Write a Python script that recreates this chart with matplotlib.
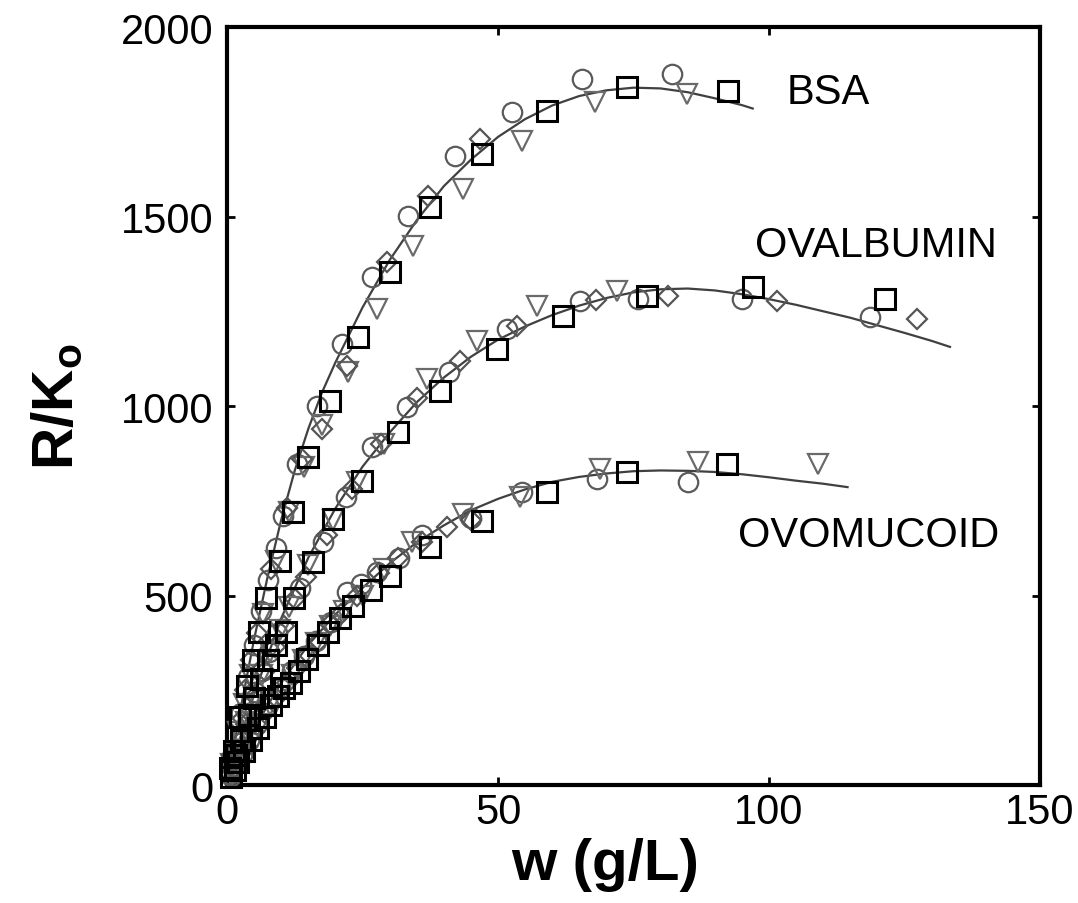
import numpy as np
import matplotlib.pyplot as plt

plt.rcParams['font.family'] = ['Liberation Sans', 'DejaVu Sans']
plt.rcParams['mathtext.default'] = 'regular'

# smooth fitted curves (w in g/L, R/K_o)
bsa_fit_w = [0, 2.5, 5, 7.5, 10, 12.5, 15, 17.5, 20, 25, 30, 35, 40, 45, 50, 55,
             60, 65, 70, 75, 80, 85, 90, 95, 97]
bsa_fit_r = [0, 200, 385, 550, 700, 830, 940, 1035, 1115, 1260, 1385, 1490, 1580,
             1650, 1710, 1757, 1793, 1818, 1833, 1840, 1838, 1828, 1812, 1794, 1785]
ova_fit_w = [0, 5, 10, 15, 20, 25, 30, 35, 40, 45, 50, 55, 60, 65, 70, 75, 80, 85,
             90, 95, 100, 105, 110, 115, 120, 125, 130, 133.4]
ova_fit_r = [0, 240, 440, 600, 730, 840, 930, 1010, 1075, 1130, 1175, 1210, 1240,
             1265, 1285, 1300, 1308, 1310, 1305, 1295, 1282, 1267, 1250, 1233, 1213,
             1193, 1172, 1156]
ovm_fit_w = [0, 5, 10, 15, 20, 25, 30, 35, 40, 45, 50, 55, 60, 65, 70, 75, 80, 85,
             90, 95, 100, 105, 110, 114.5]
ovm_fit_r = [0, 150, 270, 370, 450, 520, 585, 640, 685, 725, 755, 780, 800, 813,
             822, 828, 830, 829, 826, 820, 812, 803, 795, 786]

# BSA measurements
bsa_sq_w = [0.6, 1.2, 2.4, 3.6, 4.8, 5.9, 7.2, 9.8, 12.2, 15.0, 19.0, 24.2, 30.1,
            37.5, 47.0, 59.0, 73.8, 92.4]
bsa_sq_r = [45, 90, 180, 260, 330, 404, 494, 591, 720, 866, 1013, 1182, 1354, 1525,
            1665, 1779, 1842, 1832]
bsa_ci_w = [0.5, 1.2, 2.5, 3.8, 5.0, 6.3, 7.6, 9.0, 10.3, 12.9, 16.6, 21.2, 26.8,
            33.4, 42.1, 52.6, 65.5, 82.1]
bsa_ci_r = [40, 95, 190, 285, 370, 460, 540, 625, 710, 847, 1000, 1164, 1341, 1502,
            1660, 1776, 1863, 1876]
bsa_tr_w = [0.8, 2.0, 3.1, 4.2, 6.6, 9.0, 11.5, 14.2, 17.5, 22.3, 27.7, 34.3, 43.5,
            54.4, 67.9, 84.9]
bsa_tr_r = [55, 140, 215, 290, 450, 590, 720, 840, 950, 1090, 1256, 1422, 1573,
            1700, 1802, 1824]
bsa_di_w = [1.0, 2.2, 3.3, 4.4, 5.5, 8.2, 11.0, 13.8, 17.5, 22.1, 29.5, 37.1, 46.7]
bsa_di_r = [80, 165, 250, 330, 400, 570, 730, 860, 940, 1106, 1380, 1554, 1705]

# ovalbumin measurements
ova_sq_w = [0.8, 1.6, 2.5, 4.0, 5.0, 6.2, 7.5, 9.0, 10.9, 12.4, 15.9, 19.6, 24.9,
            31.6, 39.3, 49.8, 62.0, 77.5, 97.1, 121.4]
ova_sq_r = [40, 80, 120, 185, 230, 280, 330, 370, 404, 494, 588, 702, 802, 931,
            1040, 1150, 1238, 1290, 1314, 1283]
ova_ci_w = [0.6, 1.5, 2.7, 4.0, 5.2, 6.5, 7.8, 9.2, 13.5, 17.8, 22.0, 26.8, 33.2,
            41.0, 51.7, 65.1, 75.8, 95.0, 118.6]
ova_ci_r = [30, 70, 130, 190, 245, 300, 350, 400, 520, 640, 760, 892, 998, 1090,
            1203, 1277, 1283, 1283, 1235]
ova_tr_w = [1.0, 2.0, 3.5, 5.0, 6.5, 8.0, 9.8, 11.5, 15.0, 19.5, 24.0, 29.0, 36.9,
            46.1, 57.2, 72.0]
ova_tr_r = [45, 90, 165, 230, 290, 350, 410, 470, 580, 700, 800, 900, 1071, 1172,
            1264, 1304]
ova_di_w = [1.2, 2.3, 3.5, 5.2, 7.0, 8.8, 10.5, 12.5, 14.5, 18.5, 23.0, 28.5, 35.0,
            43.0, 53.5, 68.0, 81.4, 101.5, 127.3]
ova_di_r = [60, 110, 160, 235, 300, 365, 420, 490, 550, 660, 780, 900, 1020, 1120,
            1210, 1280, 1290, 1277, 1230]

# ovomucoid measurements
ovm_sq_w = [0.8, 1.4, 2.0, 3.2, 4.5, 5.7, 7.0, 8.2, 9.4, 10.6, 11.8, 13.2, 14.8,
            16.7, 18.6, 20.9, 23.2, 26.5, 30.1, 37.5, 47.0, 59.0, 73.8, 92.3]
ovm_sq_r = [20, 40, 60, 90, 120, 150, 180, 210, 235, 255, 270, 300, 333, 370, 404,
            440, 472, 515, 552, 628, 697, 773, 826, 847]
ovm_ci_w = [0.7, 1.5, 2.7, 4.0, 5.6, 7.5, 9.7, 12.0, 14.2, 16.5, 19.2, 22.1, 24.8,
            27.7, 31.7, 36.0, 45.0, 54.4, 68.3, 85.1]
ovm_ci_r = [25, 50, 80, 120, 160, 210, 255, 300, 340, 380, 430, 509, 530, 562, 600,
            660, 705, 773, 808, 800]
ovm_tr_w = [1.0, 2.0, 3.0, 4.5, 6.0, 8.0, 10.0, 12.0, 14.0, 16.5, 19.0, 21.5, 25.0,
            29.0, 34.1, 43.5, 54.0, 68.8, 86.9, 109.0]
ovm_tr_r = [30, 55, 80, 120, 160, 210, 250, 290, 330, 375, 420, 460, 500, 570, 641,
            715, 760, 834, 852, 847]
ovm_di_w = [1.3, 3.7, 5.0, 7.0, 9.0, 11.0, 13.0, 15.0, 17.0, 19.0, 21.0, 24.0, 28.0,
            31.5, 36.0, 40.5, 45.0]
ovm_di_r = [45, 100, 140, 190, 230, 270, 310, 345, 380, 425, 450, 500, 560, 600,
            640, 680, 700]

labels = ['BSA', 'OVALBUMIN', 'OVOMUCOID']
label_pos = [(110.9, 1829), (119.7, 1425), (118.4, 660)]

fig = plt.figure(figsize=(10.78, 9.04), dpi=100)
ax = fig.add_axes([0.2106, 0.1305, 0.7541, 0.8385])

for fw, fr in [(bsa_fit_w, bsa_fit_r), (ova_fit_w, ova_fit_r), (ovm_fit_w, ovm_fit_r)]:
    ax.plot(fw, fr, '-', color='#404040', lw=1.6, zorder=2)

mk = dict(ls='none', mfc='none', clip_on=False, zorder=3)
for cw, cr in [(bsa_ci_w, bsa_ci_r), (ova_ci_w, ova_ci_r), (ovm_ci_w, ovm_ci_r)]:
    ax.plot(cw, cr, 'o', ms=14, mec='#5a5a5a', mew=1.6, **mk)
for tw, tr in [(bsa_tr_w, bsa_tr_r), (ova_tr_w, ova_tr_r), (ovm_tr_w, ovm_tr_r)]:
    ax.plot(tw, tr, 'v', ms=15, mec='#6a6a6a', mew=1.6, **mk)
for dw, dr in [(bsa_di_w, bsa_di_r), (ova_di_w, ova_di_r), (ovm_di_w, ovm_di_r)]:
    ax.plot(dw, dr, 'D', ms=10, mec='#555555', mew=1.6, **mk)
for sw, sr in [(bsa_sq_w, bsa_sq_r), (ova_sq_w, ova_sq_r), (ovm_sq_w, ovm_sq_r)]:
    ax.plot(sw, sr, 's', ms=15, mec='black', mew=2.2, **mk)

for name, (lx, ly) in zip(labels, label_pos):
    ax.text(lx, ly, name, fontsize=30, ha='center', va='center')

ax.set_xlim(0, 150)
ax.set_ylim(0, 2000)
ax.set_xticks([0, 50, 100, 150])
ax.set_yticks([0, 500, 1000, 1500, 2000])
ax.tick_params(direction='in', length=6, width=2, labelsize=30,
               top=True, right=True)
ax.tick_params(axis='x', pad=5)
ax.tick_params(axis='y', pad=10)
for sp in ax.spines.values():
    sp.set_linewidth(3)

ax.set_xlabel('w (g/L)', fontsize=42, fontweight='bold')
ax.set_ylabel('R/K$_o$', fontsize=42, fontweight='bold')
ax.xaxis.set_label_coords(0.465, -0.068)
ax.yaxis.set_label_coords(-0.175, 0.5)

fig.savefig('out.png', dpi=100)
